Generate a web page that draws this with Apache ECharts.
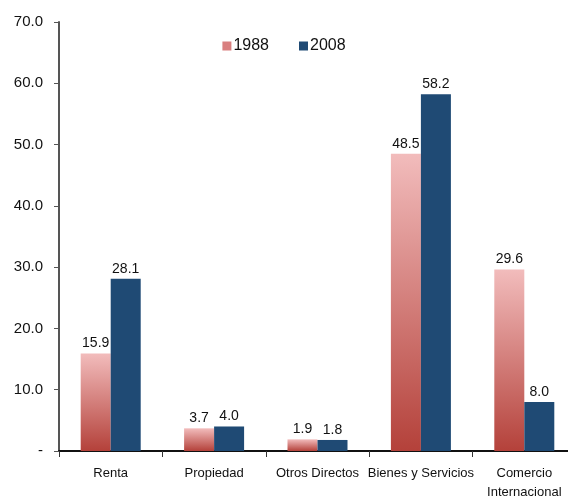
<!DOCTYPE html>
<html>
<head>
<meta charset="utf-8">
<script src="https://cdn.jsdelivr.net/npm/echarts@6/dist/echarts.min.js"></script>
<style>
  html, body { margin: 0; padding: 0; background: #fff; }
  #chart { width: 568px; height: 496px; }
</style>
</head>
<body>
<div id="chart"></div>
<script>
// Tax revenue composition by type, 1988 vs 2008
const categories = ['Renta', 'Propiedad', 'Otros Directos', 'Bienes y Servicios', 'Comercio\nInternacional'];
const values1988 = [15.9, 3.7, 1.9, 48.5, 29.6];
const values2008 = [28.1, 4.0, 1.8, 58.2, 8.0];
const seriesNames = ['1988', '2008'];
const yTicks = { min: 0, max: 70, interval: 10 };

const narrow = '"Liberation Sans Narrow", "Arial Narrow", "Liberation Sans", Arial, sans-serif';

const pinkGradient = new echarts.graphic.LinearGradient(0, 0, 0, 1, [
  { offset: 0, color: '#f2bcbc' },
  { offset: 1, color: '#b4413a' }
]);

const chart = echarts.init(document.getElementById('chart'), null, { renderer: 'canvas' });

chart.setOption({
  animation: false,
  backgroundColor: '#ffffff',
  legend: {
    top: 33,
    left: 'center',
    itemWidth: 9,
    itemHeight: 9,
    itemGap: 30,
    textStyle: { fontFamily: 'Liberation Sans, Arial, sans-serif', fontSize: 16, color: '#111', padding: [0, 0, 0, -3] },
    data: [
      { name: seriesNames[0], icon: 'rect', itemStyle: { color: '#d97f7f' } },
      { name: seriesNames[1], icon: 'rect', itemStyle: { color: '#1f4a74' } }
    ]
  },
  grid: { left: 59, top: 22, width: 517, height: 429, containLabel: false, outerBoundsMode: 'none' },
  xAxis: {
    type: 'category',
    data: categories,
    axisLine: { lineStyle: { color: '#111', width: 2 } },
    axisTick: { show: true, alignWithLabel: false, length: 6, lineStyle: { color: '#333', width: 1 } },
    axisLabel: {
      color: '#111',
      fontFamily: narrow,
      fontSize: 13,
      margin: 13,
      lineHeight: 19,
      interval: 0
    }
  },
  yAxis: {
    type: 'value',
    min: yTicks.min,
    max: yTicks.max,
    interval: yTicks.interval,
    splitLine: { show: false },
    axisLine: { show: true, lineStyle: { color: '#555', width: 2 } },
    axisTick: { show: true, length: 5, lineStyle: { color: '#555' } },
    axisLabel: {
      color: '#111',
      fontFamily: 'Liberation Sans, Arial, sans-serif',
      fontSize: 15,
      margin: 16,
      formatter: v => (v === 0 ? '-' : v.toFixed(1))
    }
  },
  series: [
    {
      name: seriesNames[0],
      type: 'bar',
      data: values1988,
      barWidth: 30,
      barGap: '0%',
      itemStyle: { color: pinkGradient },
      label: {
        show: true,
        position: 'top',
        distance: 3,
        color: '#111',
        fontFamily: narrow,
        fontSize: 14,
        formatter: p => p.value.toFixed(1)
      }
    },
    {
      name: seriesNames[1],
      type: 'bar',
      data: values2008,
      barWidth: 30,
      barGap: '0%',
      itemStyle: { color: '#1f4a74' },
      label: {
        show: true,
        position: 'top',
        distance: 3,
        color: '#111',
        fontFamily: narrow,
        fontSize: 14,
        formatter: p => p.value.toFixed(1)
      }
    }
  ]
});
</script>
</body>
</html>
